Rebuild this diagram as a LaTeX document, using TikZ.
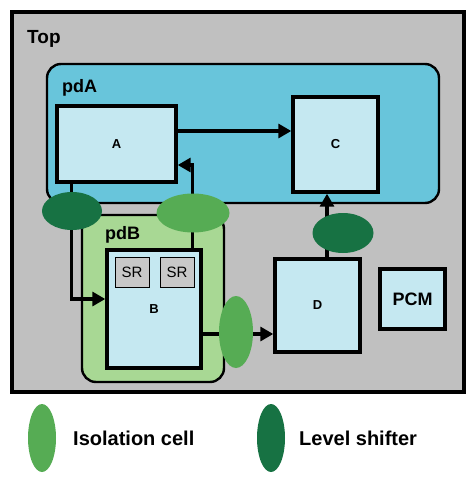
\documentclass[tikz,border=0pt]{standalone}
\usepackage{fontspec}
\setmainfont{Liberation Sans}
\usetikzlibrary{shapes.geometric,arrows.meta}

\definecolor{topgray}{RGB}{192,192,192}
\definecolor{pdablue}{RGB}{104,197,219}
\definecolor{cellblue}{RGB}{197,232,241}
\definecolor{pdbgreen}{RGB}{168,216,148}
\definecolor{isogreen}{RGB}{86,172,84}
\definecolor{lsgreen}{RGB}{23,114,67}
\definecolor{srgray}{RGB}{200,200,200}

\begin{document}
\begin{tikzpicture}[x=1pt,y=-1pt,
    pdregion/.style={draw,line width=2.4pt,rounded corners=14pt,inner sep=0pt},
    box/.style={draw,line width=3.4pt,fill=cellblue,inner sep=0pt,
      font=\bfseries\fontsize{13}{15}\selectfont},
    srbox/.style={draw,line width=1pt,fill=srgray,inner sep=0pt,
      minimum width=34pt,minimum height=30pt,font=\fontsize{15}{17}\selectfont},
    title/.style={anchor=base west,inner sep=0pt,font=\bfseries\fontsize{18}{20}\selectfont},
    iso/.style={ellipse,fill=isogreen,inner sep=0pt},
    shifter/.style={ellipse,fill=lsgreen,inner sep=0pt},
    wire/.style={line width=3.2pt,-{Triangle[length=13pt,width=14pt]}}]

  \useasboundingbox (0,0) rectangle (474,482);

  % power domains
  \node[draw,line width=3.6pt,fill=topgray,minimum width=452pt,minimum height=380pt] (Top) at (238,202) {};
  \node[title,font=\bfseries\fontsize{19}{21}\selectfont] (TopL) at (27,43) {Top};

  \node[pdregion,fill=pdablue,minimum width=392pt,minimum height=139pt] (pdA) at (243,133.5) {};
  \node[title] (pdAL) at (62,92) {pdA};

  \node[pdregion,fill=pdbgreen,minimum width=142pt,minimum height=167pt] (pdB) at (153,298.5) {};
  \node[title] (pdBL) at (105,239) {pdB};

  % blocks
  \node[box,minimum width=119pt,minimum height=76pt] (A) at (116.5,144) {A};
  \node[box,minimum width=85pt,minimum height=95pt] (C) at (335.5,144.5) {C};
  \node[box,minimum width=94pt,minimum height=118pt] (B) at (154,309) {B};
  \node[box,minimum width=85pt,minimum height=93pt] (D) at (317.5,305.5) {D};
  \node[box,minimum width=65pt,minimum height=60pt,
    font=\bfseries\fontsize{18}{20}\selectfont] (PCM) at (412.5,299) {PCM};

  \node[srbox] (SR1) at (132,272) {SR};
  \node[srbox] (SR2) at (177,272) {SR};

  % connections
  \draw[wire] ([yshift=13pt]A.east) -- ([yshift=13pt]A.east -| C.west);
  \draw[wire] ([xshift=-10pt]B.north east) |- ([yshift=-21pt]A.east);
  \draw[wire] ([xshift=16pt]A.south west) |- ([yshift=10pt]B.west);
  \draw[wire] ([yshift=-25pt]B.east) -- ([yshift=-25pt]B.east -| D.west);
  \draw[wire] ([xshift=9.5pt]D.north) -- ([xshift=9.5pt]D.north |- C.south);

  % isolation cells and level shifters
  \node[shifter,minimum width=60pt,minimum height=38pt] (LS1) at (72,211) {};
  \node[iso,minimum width=73pt,minimum height=39pt] (ISO1) at (193,213) {};
  \node[shifter,minimum width=61pt,minimum height=40pt] (LS2) at (343,233) {};
  \node[iso,minimum width=34pt,minimum height=72pt] (ISO2) at (236,332) {};

  % legend
  \node[iso,minimum width=28pt,minimum height=68pt] (IsoKey) at (42,438) {};
  \node[title,font=\bfseries\fontsize{20}{22}\selectfont] (IsoText) at (73,445) {Isolation cell};
  \node[shifter,minimum width=28pt,minimum height=68pt] (LsKey) at (271,438) {};
  \node[title,font=\bfseries\fontsize{20}{22}\selectfont] (LsText) at (299,445) {Level shifter};
\end{tikzpicture}
\end{document}
